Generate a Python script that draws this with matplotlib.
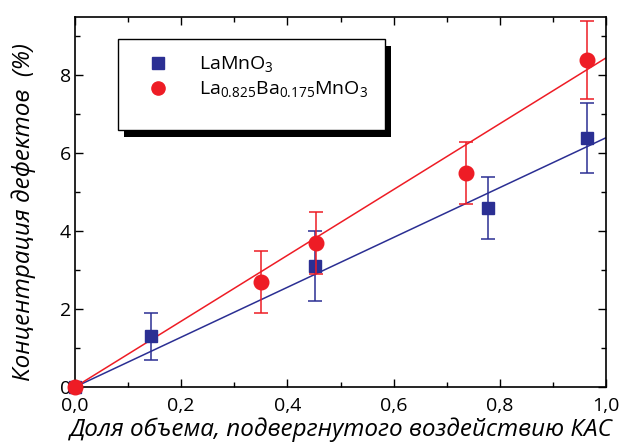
import matplotlib
matplotlib.use("Agg")
import matplotlib.pyplot as plt
from matplotlib.patches import Rectangle
from matplotlib.lines import Line2D
from matplotlib.ticker import MultipleLocator, FuncFormatter

plt.rcParams['font.family'] = ['Open Sans', 'DejaVu Sans']
plt.rcParams['mathtext.fontset'] = 'custom'
plt.rcParams['mathtext.rm'] = 'Open Sans'
plt.rcParams['mathtext.it'] = 'Open Sans:italic'

# data
x_lamno = [0.0, 0.143, 0.452, 0.778, 0.964]
y_lamno = [0.0, 1.3, 3.1, 4.6, 6.4]
e_lamno = [0.0, 0.6, 0.9, 0.8, 0.9]

x_labamno = [0.0, 0.35, 0.454, 0.736, 0.964]
y_labamno = [0.0, 2.7, 3.7, 5.5, 8.4]
e_labamno = [0.0, 0.8, 0.8, 0.8, 1.0]

fit_x = [0.0, 1.0]
fit_lamno = [0.0, 6.4]
fit_labamno = [0.0, 8.45]

labels = ['LaMnO$_3$', 'La$_{0.825}$Ba$_{0.175}$MnO$_3$']

blue = '#2b2f93'
red = '#ee1c25'

fig = plt.figure(figsize=(6.22, 4.44), dpi=100)
ax = fig.add_axes([0.1206, 0.1284, 0.8537, 0.8333])

ax.plot(fit_x, fit_lamno, color=blue, lw=1.1)
ax.plot(fit_x, fit_labamno, color=red, lw=1.1)

eb1 = ax.errorbar(x_lamno, y_lamno, yerr=e_lamno, fmt='s', color=blue, ms=9,
                  capsize=5, elinewidth=1.1, capthick=1.1, zorder=3)
eb2 = ax.errorbar(x_labamno, y_labamno, yerr=e_labamno, fmt='o', color=red, ms=10.5,
                  capsize=5, elinewidth=1.1, capthick=1.1, zorder=4)
for eb in (eb1, eb2):
    eb[0].set_clip_on(False)

ax.set_xlim(0, 1.0)
ax.set_ylim(0, 9.5)
ax.xaxis.set_major_locator(MultipleLocator(0.2))
ax.xaxis.set_minor_locator(MultipleLocator(0.1))
ax.yaxis.set_major_locator(MultipleLocator(2))
ax.yaxis.set_minor_locator(MultipleLocator(1))
ax.xaxis.set_major_formatter(FuncFormatter(lambda v, p: ('%.1f' % v).replace('.', ',')))
ax.tick_params(which='both', direction='in', top=True, right=True, labelsize=14, width=1)
ax.tick_params(which='major', length=6, pad=3)
ax.tick_params(axis='x', which='major', pad=7)
ax.tick_params(which='minor', length=3.5)
for s in ax.spines.values():
    s.set_linewidth(1.2)

ax.set_xlabel('Доля объема, подвергнутого воздействию КАС', fontsize=17.5, style='italic', labelpad=2)
ax.set_ylabel('Концентрация дефектов  (%)', fontsize=17.5, style='italic')
ax.yaxis.set_label_coords(-0.073, 0.473)

# legend box with black drop shadow
bx, by, bw, bh = 0.081, 0.695, 0.503, 0.246
ax.add_patch(Rectangle((bx + 0.011, by - 0.02), bw, bh, transform=ax.transAxes,
                       facecolor='black', edgecolor='none', zorder=5))
ax.add_patch(Rectangle((bx, by), bw, bh, transform=ax.transAxes,
                       facecolor='white', edgecolor='black', lw=1, zorder=6))
handles = [Line2D([], [], ls='none', marker='s', color=blue, ms=8),
           Line2D([], [], ls='none', marker='o', color=red, ms=9.5)]
leg = ax.legend(handles, labels, loc='upper left', bbox_to_anchor=(0.12, 0.925),
                frameon=False, fontsize=14, handlelength=1.0, handletextpad=1.6,
                labelspacing=0.25, borderpad=0)
leg.set_zorder(7)

fig.savefig('out.png', dpi=100)
